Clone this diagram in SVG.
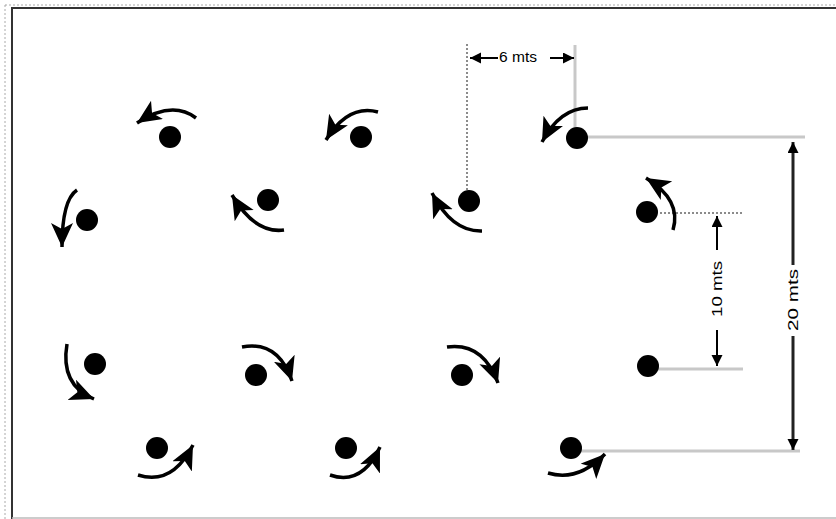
<svg xmlns="http://www.w3.org/2000/svg" width="836" height="519" viewBox="0 0 836 519">
<defs>
<marker id="ah" markerUnits="userSpaceOnUse" markerWidth="30" markerHeight="30" refX="24" refY="11" orient="auto"><path d="M0,0 L24,11 L0,22 L6,11 Z" fill="#000"/></marker>
<marker id="dh" markerUnits="userSpaceOnUse" markerWidth="14" markerHeight="14" refX="11" refY="5.5" orient="auto"><path d="M0,0 L11,5.5 L0,11 Z" fill="#000"/></marker>
<style>
.dot{fill:#000}
.rot{fill:none;stroke:#000;stroke-width:3.5;marker-end:url(#ah)}
.gl{stroke:#c8c8c8;stroke-width:3;fill:none}
.dl{stroke:#666;stroke-width:1.5;stroke-dasharray:2 2;fill:none}
.dim{stroke:#000;stroke-width:2;fill:none;marker-end:url(#dh)}
.dimt{stroke:#222;stroke-width:3;fill:none;marker-end:url(#dh)}
.t{font-family:"Liberation Sans",Arial,sans-serif;font-size:14px;fill:#000}
</style>
</defs>
<rect x="0" y="0" width="836" height="519" fill="#fff"/>
<rect x="5" y="5" width="835" height="520" fill="none" stroke="#aaa" stroke-width="1" stroke-dasharray="2 2"/>
<path d="M12,519 V8 H836" fill="none" stroke="#333" stroke-width="2"/>
<line x1="12" y1="518" x2="836" y2="518" stroke="#bbb" stroke-width="1.5"/>

<g id="connectors">
<line class="dl" x1="467" y1="44" x2="467" y2="196"/>
<line class="gl" x1="575" y1="45" x2="575" y2="130"/>
<line class="gl" x1="585" y1="137" x2="805" y2="137"/>
<line class="gl" x1="580" y1="451" x2="800" y2="451"/>
<line class="dl" x1="660" y1="213" x2="743" y2="213"/>
<line class="gl" x1="658" y1="369" x2="743" y2="369"/>
<line class="dim" x1="498" y1="58" x2="470" y2="58"/>
<line class="dim" x1="550" y1="58" x2="574" y2="58"/>
<line class="dim" x1="717" y1="250" x2="717" y2="216"/>
<line class="dim" x1="717" y1="330" x2="717" y2="366"/>
<line class="dimt" x1="793" y1="265" x2="793" y2="142"/>
<line class="dimt" x1="793" y1="336" x2="793" y2="450"/>
</g>

<g id="labels">
<text class="t" x="518" y="62" text-anchor="middle" font-size="12" textLength="38" lengthAdjust="spacingAndGlyphs">6 mts</text>
<text class="t" transform="translate(722,289) rotate(-90)" text-anchor="middle" textLength="56" lengthAdjust="spacingAndGlyphs">10 mts</text>
<text class="t" transform="translate(798,300) rotate(-90)" text-anchor="middle" textLength="62" lengthAdjust="spacingAndGlyphs">20 mts</text>
</g>

<g id="n1"><circle class="dot" cx="170" cy="137" r="11"/><path class="rot" d="M196,118 Q172,100 137,123"/></g>
<g id="n2"><circle class="dot" cx="361" cy="137" r="11"/><path class="rot" d="M378,112 Q348,104 326,140"/></g>
<g id="n3"><circle class="dot" cx="577" cy="138" r="11"/><path class="rot" d="M588,108 Q560,108 542,142"/></g>
<g id="n4"><circle class="dot" cx="87" cy="220" r="11"/><path class="rot" d="M77,190 Q62,200 62,247"/></g>
<g id="n5"><circle class="dot" cx="268" cy="200" r="11"/><path class="rot" d="M284,230 Q255,234 232,195"/></g>
<g id="n6"><circle class="dot" cx="469" cy="201" r="11"/><path class="rot" d="M482,231 Q452,232 432,193"/></g>
<g id="n7"><circle class="dot" cx="647" cy="212" r="11"/><path class="rot" d="M673,230 Q682,200 646,178"/></g>
<g id="n8"><circle class="dot" cx="95" cy="364" r="11"/><path class="rot" d="M67,344 Q60,385 94,399"/></g>
<g id="n9"><circle class="dot" cx="256" cy="375" r="11"/><path class="rot" d="M242,347 Q278,340 292,381"/></g>
<g id="n10"><circle class="dot" cx="462" cy="375" r="11"/><path class="rot" d="M447,347 Q483,342 498,383"/></g>
<g id="n11"><circle class="dot" cx="648" cy="366" r="11"/></g>
<g id="n12"><circle class="dot" cx="157" cy="448" r="11"/><path class="rot" d="M138,475 Q172,486 193,445"/></g>
<g id="n13"><circle class="dot" cx="346" cy="448" r="11"/><path class="rot" d="M330,475 Q362,486 380,447"/></g>
<g id="n14"><circle class="dot" cx="571" cy="448" r="11"/><path class="rot" d="M548,473 Q578,482 605,454"/></g>
</svg>
